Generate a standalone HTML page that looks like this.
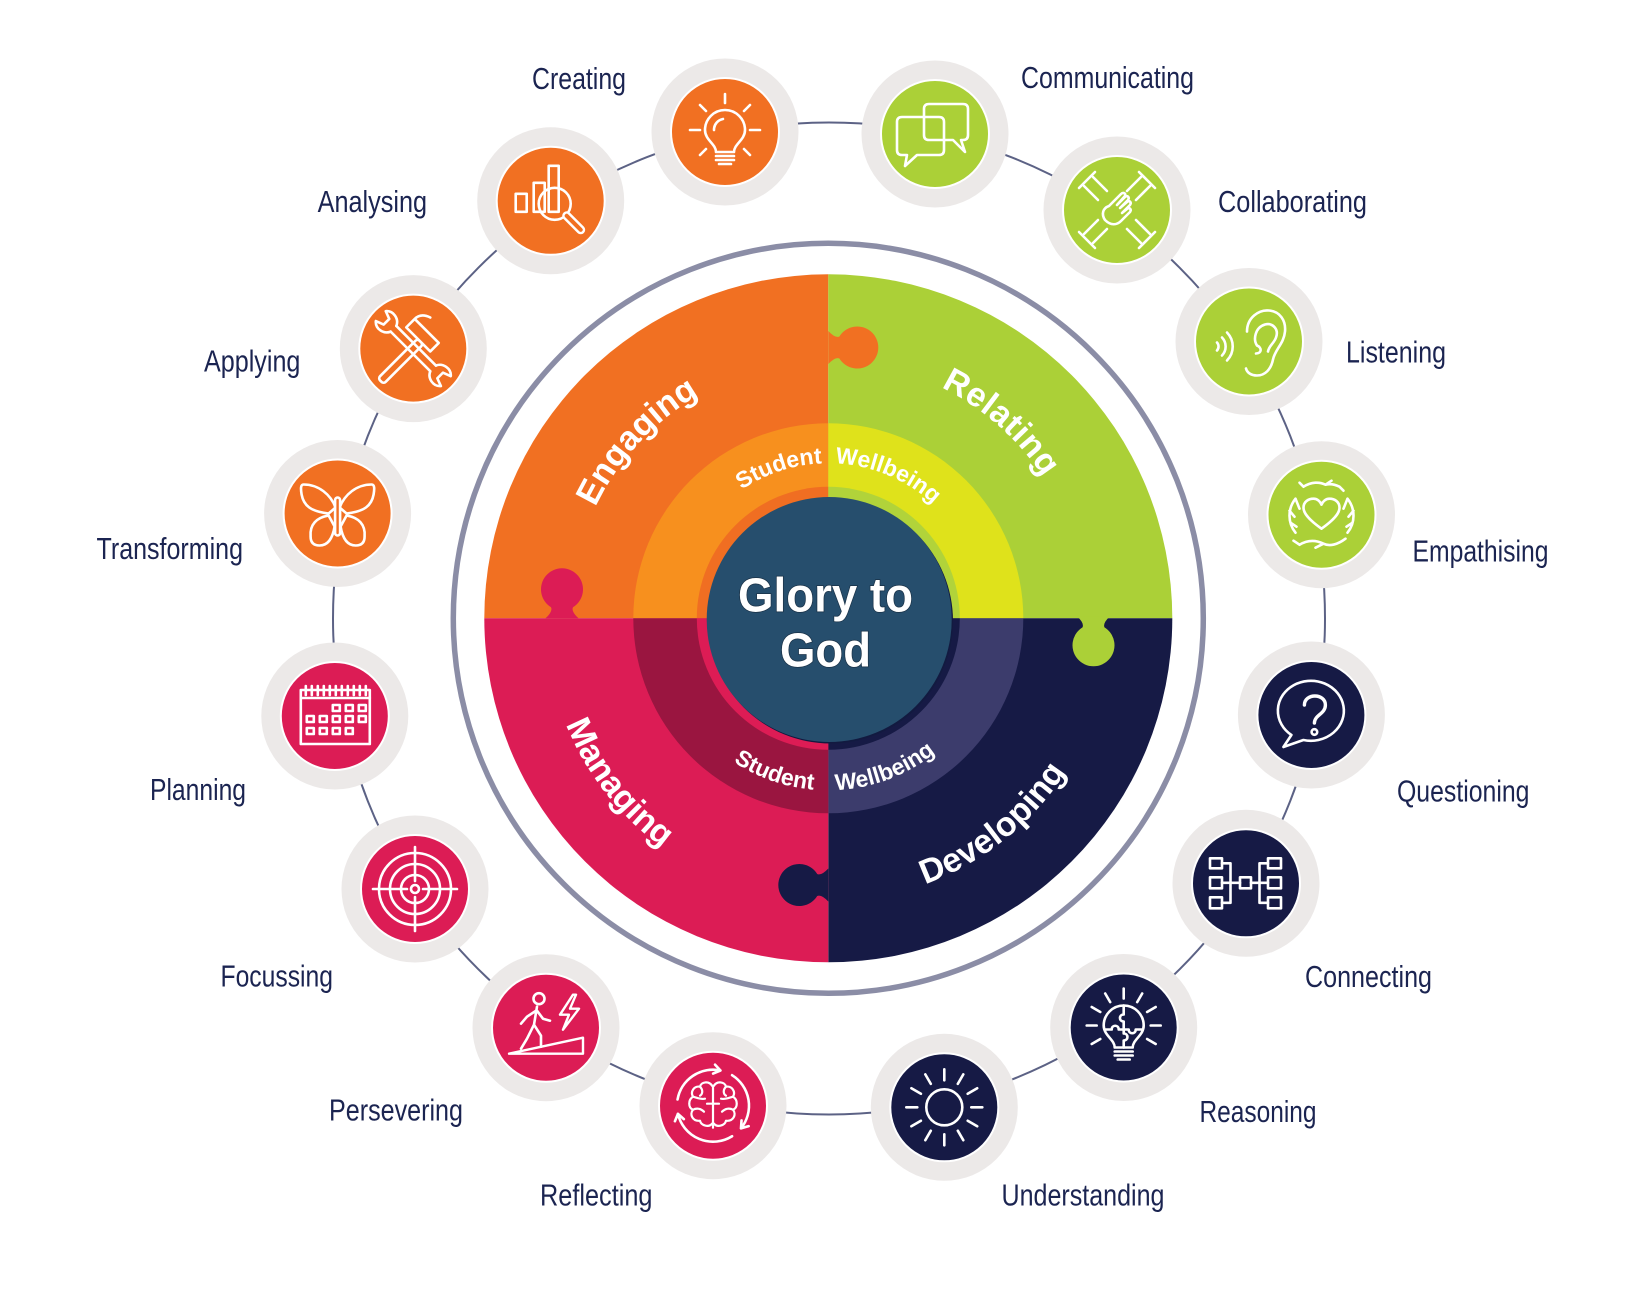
<!DOCTYPE html>
<html><head><meta charset="utf-8"><style>
html,body{margin:0;padding:0;background:#fff}
svg{display:block}
.ic{fill:none;stroke:#fff;stroke-width:2.6;stroke-linecap:round;stroke-linejoin:round}
.lbl{font-family:"Liberation Sans Narrow","Liberation Sans",sans-serif;font-size:31px;fill:#1b2451}
.arc{font-family:"Liberation Sans",sans-serif;font-weight:bold;fill:#fff}
</style></head><body>
<svg width="1640" height="1312" viewBox="0 0 1640 1312" xmlns="http://www.w3.org/2000/svg">
<defs>
<path id="knob" d="M0,-16.5 Q7,-9 11.1,-11 A21,21 0 1 1 11.1,11 Q7,9 0,16.5 Z"/>
<path id="pEng" d="M595.4,507.2 A258,258 0 0 1 783.5,364.2"/>
<path id="pRel" d="M941,387.3 A257,257 0 0 1 1081.4,573.7"/>
<path id="pMan" d="M565.9,724.3 A283,283 0 0 0 779.2,897"/>
<path id="pDev" d="M925.1,884.2 A283,283 0 0 0 1107,667.4"/>
<path id="pS1" d="M741.6,489.8 A155,155 0 0 1 855.2,465.7"/>
<path id="pW1" d="M835.1,463.4 A155,155 0 0 1 962.5,540.8"/>
<path id="pS2" d="M733.4,761.7 A172,172 0 0 0 858.2,787.7"/>
<path id="pW2" d="M835.8,790.1 A172,172 0 0 0 989.9,677.1"/>
</defs>
<rect width="1640" height="1312" fill="#fff"/>

<!-- connector circle -->
<circle cx="829" cy="618.5" r="496" fill="none" stroke="#5c6285" stroke-width="2"/>

<!-- outer ring -->
<circle cx="828.3" cy="618.3" r="375" fill="#fff" stroke="#8b8da6" stroke-width="5.5"/>

<!-- quadrants -->
<path d="M828.3,618.3 L484.3,618.3 A344,344 0 0 1 828.3,274.3 Z" fill="#f17022"/>
<path d="M828.3,618.3 L828.3,274.3 A344,344 0 0 1 1172.3,618.3 Z" fill="#abd037"/>
<path d="M828.3,618.3 L1172.3,618.3 A344,344 0 0 1 828.3,962.3 Z" fill="#161a45"/>
<path d="M828.3,618.3 L828.3,962.3 A344,344 0 0 1 484.3,618.3 Z" fill="#dc1c55"/>

<!-- knobs -->
<use href="#knob" transform="translate(828.3,347.5)" fill="#f17022"/>
<use href="#knob" transform="translate(562,618.3) rotate(-90)" fill="#dc1c55"/>
<use href="#knob" transform="translate(1093.5,618.3) rotate(90) translate(-2,0)" fill="#abd037"/>
<use href="#knob" transform="translate(828.3,885) rotate(180)" fill="#161a45"/>

<!-- inner ring -->
<path d="M828.3,618.3 L633.3,618.3 A195,195 0 0 1 828.3,423.3 Z" fill="#f7901e"/>
<path d="M828.3,618.3 L828.3,423.3 A195,195 0 0 1 1023.3,618.3 Z" fill="#dfe21b"/>
<path d="M828.3,618.3 L1023.3,618.3 A195,195 0 0 1 828.3,813.3 Z" fill="#3c3c6c"/>
<path d="M828.3,618.3 L828.3,813.3 A195,195 0 0 1 633.3,618.3 Z" fill="#9a1540"/>

<!-- band -->
<path d="M828.3,618.3 L696.8,618.3 A131.5,131.5 0 0 1 828.3,486.8 Z" fill="#f06e22"/>
<path d="M828.3,618.3 L828.3,486.8 A131.5,131.5 0 0 1 959.8,618.3 Z" fill="#b1d33a"/>
<path d="M828.3,618.3 L959.8,618.3 A131.5,131.5 0 0 1 828.3,749.8 Z" fill="#161a45"/>
<path d="M828.3,618.3 L828.3,749.8 A131.5,131.5 0 0 1 696.8,618.3 Z" fill="#dd1c55"/>

<!-- center -->
<circle cx="830.5" cy="621" r="122.5" fill="#121a40"/>
<circle cx="829.2" cy="619.5" r="122.5" fill="#264e6d"/>
<text x="738" y="611.7" textLength="175" lengthAdjust="spacingAndGlyphs" font-family="Liberation Sans, sans-serif" font-weight="bold" font-size="48" fill="#fff" stroke="#1a3146" stroke-width="1.5" paint-order="stroke">Glory to</text>
<text x="780" y="666.7" textLength="91" lengthAdjust="spacingAndGlyphs" font-family="Liberation Sans, sans-serif" font-weight="bold" font-size="48" fill="#fff" stroke="#1a3146" stroke-width="1.5" paint-order="stroke">God</text>

<!-- curved labels -->
<text class="arc" font-size="34"><textPath href="#pEng">Engaging</textPath></text>
<text class="arc" font-size="34" letter-spacing="0.5"><textPath href="#pRel">Relating</textPath></text>
<text class="arc" font-size="34"><textPath href="#pMan">Managing</textPath></text>
<text class="arc" font-size="34"><textPath href="#pDev">Developing</textPath></text>
<text class="arc" font-size="23"><textPath href="#pS1">Student</textPath></text>
<text class="arc" font-size="23"><textPath href="#pW1">Wellbeing</textPath></text>
<text class="arc" font-size="23"><textPath href="#pS2">Student</textPath></text>
<text class="arc" font-size="23"><textPath href="#pW2">Wellbeing</textPath></text>

<!-- halos -->
<g fill="#ece9e8">
<circle cx="725" cy="132" r="73.5"/>
<circle cx="935" cy="134" r="73.5"/>
<circle cx="1117" cy="210" r="73.5"/>
<circle cx="1249" cy="341.5" r="73.5"/>
<circle cx="1321.5" cy="514.7" r="73.5"/>
<circle cx="1311.4" cy="715" r="73.5"/>
<circle cx="1246" cy="883.3" r="73.5"/>
<circle cx="1123.7" cy="1027.5" r="73.5"/>
<circle cx="944.3" cy="1107.3" r="73.5"/>
<circle cx="713" cy="1105.7" r="73.5"/>
<circle cx="546" cy="1027.7" r="73.5"/>
<circle cx="415" cy="889" r="73.5"/>
<circle cx="334.8" cy="716" r="73.5"/>
<circle cx="337.6" cy="513.5" r="73.5"/>
<circle cx="413.3" cy="348.6" r="73.5"/>
<circle cx="550.7" cy="200.8" r="73.5"/>
</g>
<!-- colored circles -->
<g stroke="#fff" stroke-width="2">
<circle cx="725" cy="132" r="54" fill="#f17022"/>
<circle cx="935" cy="134" r="54" fill="#abd037"/>
<circle cx="1117" cy="210" r="54" fill="#abd037"/>
<circle cx="1249" cy="341.5" r="54" fill="#abd037"/>
<circle cx="1321.5" cy="514.7" r="54" fill="#abd037"/>
<circle cx="1311.4" cy="715" r="54" fill="#161a45"/>
<circle cx="1246" cy="883.3" r="54" fill="#161a45"/>
<circle cx="1123.7" cy="1027.5" r="54" fill="#161a45"/>
<circle cx="944.3" cy="1107.3" r="54" fill="#161a45"/>
<circle cx="713" cy="1105.7" r="54" fill="#dc1c55"/>
<circle cx="546" cy="1027.7" r="54" fill="#dc1c55"/>
<circle cx="415" cy="889" r="54" fill="#dc1c55"/>
<circle cx="334.8" cy="716" r="54" fill="#dc1c55"/>
<circle cx="337.6" cy="513.5" r="54" fill="#f17022"/>
<circle cx="413.3" cy="348.6" r="54" fill="#f17022"/>
<circle cx="550.7" cy="200.8" r="54" fill="#f17022"/>
</g>

<!-- Icons -->
<!-- Creating -->
<g class="ic" transform="translate(725,132)">
<path d="M-9,20 C-9,12 -20,8 -20,-2 A20,20 0 0 1 20,-2 C20,8 9,12 9,20 Z"/>
<path d="M-9,24 H9 M-9,28 H9 M-6,32 H6 M-11,-2 A11,11 0 0 1 -2,-13"/>
<path d="M0,-29 V-38 M-19,-21 L-25,-27 M19,-21 L25,-27 M-25,-2 H-35 M25,-2 H35 M-19,17 L-25,23 M19,17 L25,23"/>
</g>
<!-- Communicating -->
<g class="ic" transform="translate(935,134)">
<path d="M-6,-30 H28 Q33,-30 33,-25 V1 Q33,6 28,6 H26 L30,18 L18,6 H-6 Q-11,6 -11,1 V-25 Q-11,-30 -6,-30 Z"/>
<path d="M-33,-17 H4 Q9,-17 9,-12 V16 Q9,21 4,21 H-18 L-30,32 L-28,21 H-33 Q-38,21 -38,16 V-12 Q-38,-17 -33,-17 Z"/>
</g>
<!-- Collaborating -->
<g class="ic" transform="translate(1117,210)" stroke-width="2.2">
<path d="M-38,-22 L-22,-38 M-33,-24 L-19,-10 M-24,-33 L-10,-19"/>
<path transform="rotate(90)" d="M-38,-22 L-22,-38 M-33,-24 L-19,-10 M-24,-33 L-10,-19"/>
<path transform="rotate(180)" d="M-38,-22 L-22,-38 M-33,-24 L-19,-10 M-24,-33 L-10,-19"/>
<path transform="rotate(270)" d="M-38,-22 L-22,-38 M-33,-24 L-19,-10 M-24,-33 L-10,-19"/>
<path d="M-12,10 C-16,4 -14,-2 -8,-4 L4,-16 C6,-18 9,-17 8,-14 L0,-5 L8,-13 C10,-15 13,-13 11,-10 L3,-2 L10,-8 C12,-10 15,-8 13,-5 L5,3 L10,-1 C12,-3 15,-1 13,2 L4,11 C0,15 -6,16 -12,10 Z"/>
</g>
<!-- Listening -->
<g class="ic" transform="translate(1249,341.5)" stroke-width="3">
<path d="M-2,-10 C-2,-24 10,-32 20,-31 C31,-30 37,-21 36,-10 C35,2 26,8 24,18 C22,28 16,34 8,34 C2,34 -2,31 -3,27"/>
<path d="M8,4 C4,-2 6,-14 16,-17 C24,-19 30,-12 27,-4 C25,2 20,4 19,10 M8,4 C13,6 13,12 7,12"/>
<path d="M-22,-9 A20,20 0 0 1 -22,19 M-27,-4 A13,13 0 0 1 -27,14 M-32,1 A6,6 0 0 1 -32,9"/>
</g>
<!-- Empathising -->
<g class="ic" transform="translate(1321.5,514.7)" stroke-width="2.3">
<path d="M0,14 C-14,4 -18,-2 -18,-7 C-18,-13 -13,-16 -8,-16 C-4,-16 -1,-13 0,-10 C1,-13 4,-16 8,-16 C13,-16 18,-13 18,-7 C18,-2 14,4 0,14 Z"/>
<path d="M-18,-28 C-10,-33 -2,-33 4,-30 L10,-34 M18,-28 C12,-31 8,-31 4,-30 M-18,-28 L-22,-32 M18,-28 L22,-24"/>
<path d="M-26,-16 C-34,-6 -34,8 -26,18 M-26,-16 L-22,-6 M-32,-4 L-27,2 M-31,8 L-25,12"/>
<path d="M26,-16 C34,-6 34,8 26,18 M26,-16 L22,-6 M32,-4 L27,2 M31,8 L25,12"/>
<path d="M-22,30 C-12,24 -4,26 2,29 C8,32 16,30 24,24 M-22,30 L-28,26 M2,29 L-6,33"/>
</g>
<!-- Questioning -->
<g class="ic" transform="translate(1311.4,715)">
<path d="M-20,20 A33,30 0 1 1 -8,25 L-28,32 Z"/>
<path d="M-7,-10 C-7,-22 14,-22 14,-10 C14,-1 3,0 3,8" stroke-width="3.4"/>
<circle cx="3" cy="17" r="2.8"/>
</g>
<!-- Connecting -->
<g class="ic" transform="translate(1246,883.3)" stroke-width="2.4">
<rect x="-36" y="-25" width="12" height="10"/><rect x="-36" y="-6" width="12" height="11"/><rect x="-36" y="14" width="12" height="11"/>
<rect x="-6" y="-6" width="11" height="11"/>
<rect x="22" y="-25" width="13" height="10"/><rect x="22" y="-6" width="13" height="11"/><rect x="22" y="14" width="13" height="11"/>
<path d="M-24,-20 H-15.5 M-24,-0.5 H-6 M-24,19.5 H-15.5 M-15.5,-20 V19.5 M5,-0.5 H22 M13.5,-20 V19.5 M13.5,-20 H22 M13.5,19.5 H22"/>
</g>
<!-- Reasoning -->
<g class="ic" transform="translate(1123.7,1027.5)" stroke-width="2.4">
<path d="M-9,20 C-9,12 -20,8 -20,-2 A20,20 0 0 1 20,-2 C20,8 9,12 9,20 Z"/>
<path d="M-9,24 H9 M-9,28 H9 M-6,32 H6"/>
<path d="M0,-22 V-13 C-5,-13 -5,-6 0,-6 V6 C5,6 5,13 0,13 V20 M-19,2 H-12 C-12,-3 -5,-3 -5,2 H5 C5,7 12,7 12,2 H19"/>
<path d="M0,-29 V-39 M13.5,-25.4 L18.5,-34 M-13.5,-25.4 L-18.5,-34 M23.4,-15.5 L32,-20.5 M-23.4,-15.5 L-32,-20.5 M27,-2 H37 M-27,-2 H-37 M23.4,11.5 L32,16.5 M-23.4,11.5 L-32,16.5"/>
</g>
<!-- Understanding -->
<g class="ic" transform="translate(944.3,1107.3)" stroke-width="2.8">
<circle r="18"/>
<path d="M27,0 H38 M-27,0 H-38 M0,27 V38 M0,-27 V-38 M23.4,13.5 L32.9,19 M-23.4,13.5 L-32.9,19 M23.4,-13.5 L32.9,-19 M-23.4,-13.5 L-32.9,-19 M13.5,23.4 L19,32.9 M-13.5,23.4 L-19,32.9 M13.5,-23.4 L19,-32.9 M-13.5,-23.4 L-19,-32.9"/>
</g>
<!-- Reflecting -->
<g class="ic" transform="translate(713,1105.7)" stroke-width="2.6">
<path d="M-35.45,-6.25 A36,36 0 0 1 7.48,-35.2 M2,-41.05 L7.48,-35.2 L0.12,-32.1"/>
<path d="M19.08,-30.53 A36,36 0 0 1 27.98,22.65 M35.67,20.45 L27.98,22.65 L28.53,14.67"/>
<path d="M19.08,30.53 A36,36 0 0 1 -35.08,8.1 M-38.08,15.52 L-35.08,8.1 L-29.14,13.45"/>
<g stroke-width="2.2">
<path d="M-1,-20 C-4,-25 -12,-24 -13,-19 C-19,-20 -23,-14 -20,-9 C-25,-6 -25,2 -20,4 C-24,9 -20,16 -13,15 C-12,20 -4,22 -1,18"/>
<path d="M1,-20 C4,-25 12,-24 13,-19 C19,-20 23,-14 20,-9 C25,-6 25,2 20,4 C24,9 20,16 13,15 C12,20 4,22 1,18"/>
<path d="M0,-20 V22 M-13,-19 C-10,-16 -10,-12 -13,-10 M-20,-9 C-16,-8 -12,-6 -8,-7 M-20,4 C-16,2 -12,3 -9,6 M13,-19 C10,-16 10,-12 13,-10 M20,-9 C16,-8 12,-6 8,-7 M20,4 C16,2 12,3 9,6 M-6,-2 H6"/>
</g>
</g>
<!-- Persevering -->
<g class="ic" transform="translate(546,1027.7)" stroke-width="2.8">
<circle cx="-7" cy="-29" r="5.5"/>
<path d="M-9,-21 L-12,-3 M-10,-17 L-19,-11 L-25,-4 M-9,-17 L-3,-9 L4,-7 M-12,-3 L-19,11 L-25,21 M-12,-3 L-5,8 L-5,19"/>
<path d="M27,-33 L14,-13 H23 L17,2 L33,-19 H24 L30,-33 Z" stroke-width="2.4"/>
<path d="M-37,26 L37,10 V26 Z" stroke-width="2.4"/>
</g>
<!-- Focussing -->
<g class="ic" transform="translate(415,889)" stroke-width="2.4">
<circle r="36"/><circle r="25"/><circle r="14"/><circle r="4"/>
<path d="M-42,0 H-8 M8,0 H42 M0,-42 V-8 M0,8 V42"/>
</g>
<!-- Planning -->
<g class="ic" transform="translate(334.8,716)" stroke-width="2.2">
<rect x="-34" y="-26" width="69" height="54"/>
<path d="M-34,-18 H35"/>
<path d="M-29,-30 V-21 M-23,-30 V-21 M-17,-30 V-21 M-11,-30 V-21 M-5,-30 V-21 M1,-30 V-21 M7,-30 V-21 M13,-30 V-21 M19,-30 V-21 M25,-30 V-21 M31,-30 V-21"/>
<rect x="-2" y="-11" width="7" height="6"/><rect x="11" y="-11" width="7" height="6"/><rect x="24" y="-11" width="7" height="6"/>
<rect x="-28" y="0" width="7" height="6"/><rect x="-15" y="0" width="7" height="6"/><rect x="-2" y="0" width="7" height="6"/><rect x="11" y="0" width="7" height="6"/><rect x="24" y="0" width="7" height="6"/>
<rect x="-28" y="12" width="7" height="6"/><rect x="-15" y="12" width="7" height="6"/><rect x="-2" y="12" width="7" height="6"/><rect x="11" y="12" width="7" height="6"/>
</g>
<!-- Transforming -->
<g class="ic" transform="translate(337.6,513.5)">
<path d="M2,-6 C7,-19 19,-29 34,-29 C37,-29 37,-25 36,-19 C34,-8 27,-2 9,0 Z"/>
<path d="M9,2 C21,4 28,11 27,23 C27,29 24,32 18,32 C10,32 5,25 3,13 Z"/>
<g transform="scale(-1,1)">
<path d="M2,-6 C7,-19 19,-29 34,-29 C37,-29 37,-25 36,-19 C34,-8 27,-2 9,0 Z"/>
<path d="M9,2 C21,4 28,11 27,23 C27,29 24,32 18,32 C10,32 5,25 3,13 Z"/>
</g>
<rect x="-2.5" y="-16" width="5" height="38" rx="2.5" fill="#f17022"/>
</g>
<!-- Applying -->
<g class="ic" transform="translate(413.3,348.6)" stroke-width="2.4">
<g transform="rotate(-45)">
<rect x="-46" y="-4" width="56" height="8" rx="3"/>
<path d="M10,-20 H22 V14 H10 Z M22,-20 C28,-20 32,-16 34,-10" fill="#f17022"/>
</g>
<g transform="rotate(45)">
<path d="M-28,-4 H28 M-28,4 H28"/>
<path d="M-28,-4 C-31,-11 -41,-13 -46,-7 L-38,-4 V4 L-46,7 C-41,13 -31,11 -28,4"/>
<path d="M28,-4 C31,-11 41,-13 46,-7 L38,-4 V4 L46,7 C41,13 31,11 28,4"/>
</g>
</g>
<!-- Analysing -->
<g class="ic" transform="translate(550.7,200.8)" stroke-width="2.4">
<rect x="-35" y="-7" width="11" height="18"/>
<rect x="-17" y="-18" width="11" height="29"/>
<rect x="-2" y="-35" width="10" height="46"/>
<circle cx="4" cy="3" r="16"/>
<path d="M16,15 L30,29" stroke-width="9"/>
<path d="M16,15 L30,29" stroke-width="4" stroke="#f17022"/>
</g>

<!-- Labels -->
<g class="lbl">
<text x="532" y="89" textLength="94" lengthAdjust="spacingAndGlyphs">Creating</text>
<text x="1021" y="88" textLength="173" lengthAdjust="spacingAndGlyphs">Communicating</text>
<text x="1218" y="212" textLength="149" lengthAdjust="spacingAndGlyphs">Collaborating</text>
<text x="1346" y="362.5" textLength="100" lengthAdjust="spacingAndGlyphs">Listening</text>
<text x="1412.5" y="561.5" textLength="136" lengthAdjust="spacingAndGlyphs">Empathising</text>
<text x="1397" y="801.5" textLength="132.5" lengthAdjust="spacingAndGlyphs">Questioning</text>
<text x="1305" y="987" textLength="127" lengthAdjust="spacingAndGlyphs">Connecting</text>
<text x="1199.5" y="1122" textLength="117" lengthAdjust="spacingAndGlyphs">Reasoning</text>
<text x="1001.5" y="1205.5" textLength="163" lengthAdjust="spacingAndGlyphs">Understanding</text>
<text x="540" y="1205.5" textLength="112.5" lengthAdjust="spacingAndGlyphs">Reflecting</text>
<text x="329" y="1120.7" textLength="134" lengthAdjust="spacingAndGlyphs">Persevering</text>
<text x="220.5" y="986.7" textLength="112.5" lengthAdjust="spacingAndGlyphs">Focussing</text>
<text x="150" y="800" textLength="96" lengthAdjust="spacingAndGlyphs">Planning</text>
<text x="96.5" y="559.2" textLength="146.5" lengthAdjust="spacingAndGlyphs">Transforming</text>
<text x="204" y="371.4" textLength="96.4" lengthAdjust="spacingAndGlyphs">Applying</text>
<text x="317.6" y="212" textLength="109.5" lengthAdjust="spacingAndGlyphs">Analysing</text>
</g>
</svg>
</body></html>
